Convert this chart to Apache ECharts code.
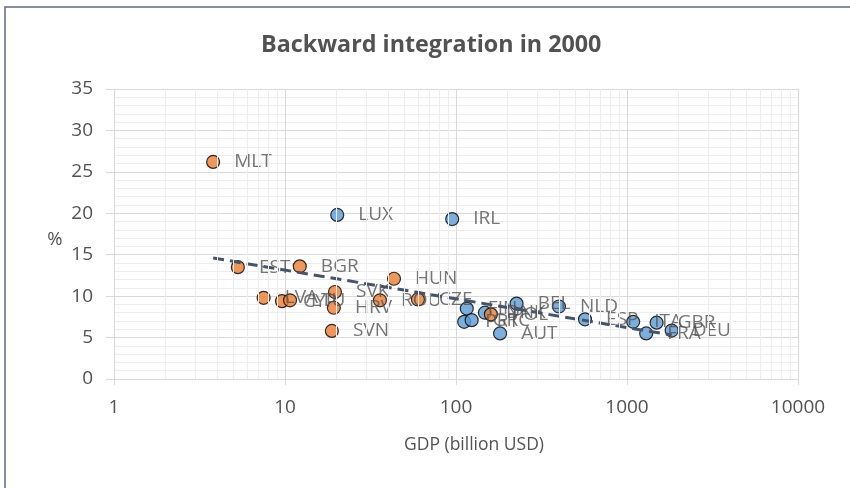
<!DOCTYPE html>
<html>
<head>
<meta charset="utf-8">
<script src="https://cdn.jsdelivr.net/npm/echarts@6/dist/echarts.min.js"></script>
<style>
html,body{margin:0;padding:0;background:#fff;}
#chart{width:850px;height:488px;}
</style>
</head>
<body>
<div id="chart"></div>
<script>
// Orange series (new member states)
const orangeNames = ['MLT','EST','BGR','HUN','SVK','HRV','SVN','LVA','CYP','LTU','ROU','CZE','POL'];
const orangeGdp   = [3.8, 5.3, 12.2, 43.4, 19.6, 19.3, 18.8, 7.5, 9.6, 10.7, 35.9, 59.9, 160];
const orangeBwd   = [26.2, 13.5, 13.6, 12.1, 10.5, 8.6, 5.8, 9.8, 9.4, 9.5, 9.5, 9.6, 7.8];

// Blue series (old member states)
const blueNames = ['LUX','IRL','FIN','PRT','GRC','DNK','AUT','BEL','NLD','ESP','ITA','FRA','GBR','DEU'];
const blueGdp   = [20.2, 95, 115.6, 111.6, 123.5, 147.6, 181, 226, 400, 568, 1087, 1295, 1490, 1825];
const blueBwd   = [19.8, 19.3, 8.5, 6.9, 7.1, 8.0, 5.5, 9.1, 8.75, 7.2, 6.9, 5.5, 6.8, 5.85];

// Trend line endpoints
const trendGdp = [3.8, 1825];
const trendBwd = [14.6, 5.3];

// Minor vertical gridline positions on the log axis
const minorX = [2,3,4,5,6,7,8,9,20,30,40,50,60,70,80,90,200,300,400,500,600,700,800,900,2000,3000,4000,5000,6000,7000,8000,9000];

const FONT = 'Open Sans';
const TXT = '#525252';

function pts(names, xs, ys){ return names.map((n,i)=>({name:n, value:[xs[i], ys[i]]})); }

const chart = echarts.init(document.getElementById('chart'), null, {renderer:'canvas'});

const labelCfg = {
  show:true, position:'right', distance:14,
  formatter: p => p.name,
  color: TXT, fontFamily: FONT, fontSize: 19
};

chart.setOption({
  animation:false,
  backgroundColor:'#ffffff',
  title:{
    text:'Backward integration in 2000',
    left:256, top:29,
    textStyle:{fontFamily:FONT, fontWeight:'bold', fontSize:23.3, color:TXT}
  },
  graphic:[{
    type:'rect', shape:{x:5, y:7, width:900, height:600},
    style:{fill:'none', stroke:'#5B6B80', lineWidth:1.5}, silent:true, z:-1
  },{
    type:'text', x:55, y:240,
    style:{text:'%', fontFamily:FONT, fontSize:18.5, fill:TXT, align:'center', verticalAlign:'middle'},
    silent:true
  }],
  grid:{left:114, right:52, top:89, bottom:109},
  xAxis:{
    type:'log', logBase:10, min:1, max:10000,
    name:'GDP (billion USD)', nameLocation:'middle', nameGap:57,
    nameTextStyle:{fontFamily:FONT, fontSize:17.5, color:TXT, padding:[0,0,0,36]},
    axisLine:{show:true, lineStyle:{color:'#D9D9D9', width:1}},
    axisTick:{show:true, length:6, lineStyle:{color:'#D9D9D9'}},
    axisLabel:{fontFamily:FONT, fontSize:19, color:TXT, margin:19,
      formatter: v => String(Math.round(v))},
    splitLine:{show:true, lineStyle:{color:'#D9D9D9', width:1}},
    minorTick:{show:false}, minorSplitLine:{show:false}
  },
  yAxis:{
    type:'value', min:0, max:35, interval:5,
    axisLine:{show:true, lineStyle:{color:'#D9D9D9'}},
    axisTick:{show:true, length:8, lineStyle:{color:'#D9D9D9'}},
    axisLabel:{fontFamily:FONT, fontSize:19, color:TXT, margin:21},
    splitLine:{show:true, lineStyle:{color:'#D9D9D9', width:1}},
    minorTick:{show:false, splitNumber:5},
    minorSplitLine:{show:true, lineStyle:{color:'#EDEDED', width:1}}
  },
  series:[
    {
      type:'line', data:[], silent:true, z:1,
      markLine:{
        silent:true, symbol:'none', animation:false,
        label:{show:false},
        lineStyle:{color:'#EDEDED', width:1, type:'solid'},
        data: minorX.map(v=>({xAxis:v}))
      }
    },
    {
      type:'scatter', name:'blue', z:3,
      symbol:'circle', symbolSize:13,
      itemStyle:{color:'#5B9BD5', borderColor:'#000', borderWidth:1.2},
      label:labelCfg,
      data: pts(blueNames, blueGdp, blueBwd)
    },
    {
      type:'scatter', name:'orange', z:3,
      symbol:'circle', symbolSize:13,
      itemStyle:{color:'#ED7D31', borderColor:'#000', borderWidth:1.2},
      label:labelCfg,
      data: pts(orangeNames, orangeGdp, orangeBwd)
    },
    {
      type:'line', name:'trend', z:4, silent:true,
      symbol:'none',
      lineStyle:{color:'#44546A', width:3, type:[11,6]},
      data: trendGdp.map((g,i)=>[g, trendBwd[i]])
    }
  ]
});
</script>
</body>
</html>
